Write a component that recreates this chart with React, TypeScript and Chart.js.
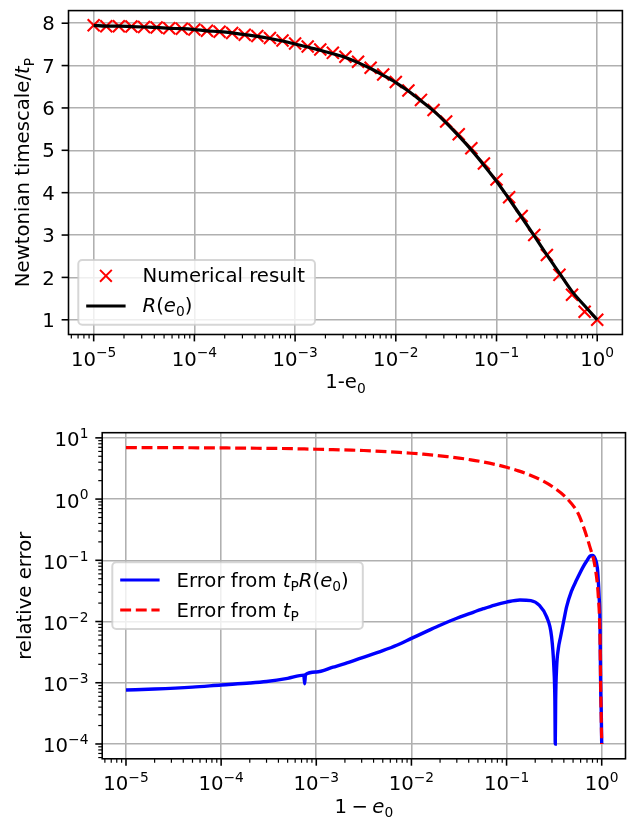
import React, { useEffect, useRef } from "react";
import { Chart, registerables } from "chart.js";

Chart.register(...registerables);

// ---------------- data ----------------
// 1 - e0 sample points of the numerical result (8 per decade)
const X_NUM = [
  1e-5, 1.334e-5, 1.778e-5, 2.371e-5, 3.162e-5, 4.217e-5, 5.623e-5, 7.499e-5,
  1e-4, 1.334e-4, 1.778e-4, 2.371e-4, 3.162e-4, 4.217e-4, 5.623e-4, 7.499e-4,
  1e-3, 1.334e-3, 1.778e-3, 2.371e-3, 3.162e-3, 4.217e-3, 5.623e-3, 7.499e-3,
  1e-2, 1.334e-2, 1.778e-2, 2.371e-2, 3.162e-2, 4.217e-2, 5.623e-2, 7.499e-2,
  0.1, 0.1334, 0.1778, 0.2371, 0.3162, 0.4217, 0.5623, 0.7499, 1,
];
const NUMERICAL = [
  7.95, 7.93, 7.93, 7.92, 7.91, 7.9, 7.88, 7.87,
  7.85, 7.82, 7.8, 7.77, 7.73, 7.7, 7.65, 7.59,
  7.52, 7.45, 7.38, 7.3, 7.21, 7.09, 6.95, 6.79,
  6.61, 6.41, 6.19, 5.95, 5.68, 5.38, 5.05, 4.69,
  4.31, 3.89, 3.45, 3.0, 2.53, 2.06, 1.59, 1.19, 1.0,
];
const R_THEORY = [
  7.95, 7.93, 7.93, 7.92, 7.91, 7.9, 7.88, 7.87,
  7.85, 7.82, 7.8, 7.77, 7.73, 7.69, 7.64, 7.58,
  7.51, 7.44, 7.36, 7.28, 7.19, 7.07, 6.93, 6.77,
  6.6, 6.4, 6.17, 5.93, 5.65, 5.34, 5.01, 4.65,
  4.27, 3.85, 3.42, 2.98, 2.53, 2.1, 1.67, 1.33, 1.0,
];

// relative error of t_P R(e0)
const ERR_R_X = [
  1e-5, 2e-5, 5e-5, 1e-4, 2e-4, 3e-4, 5e-4, 7.4e-4, 7.55e-4, 7.7e-4,
  1e-3, 1.5e-3, 2e-3, 3e-3, 5e-3, 7e-3, 1e-2, 1.5e-2, 2e-2, 3e-2,
  4e-2, 5.7e-2, 7.5e-2, 0.1, 0.138, 0.18, 0.22, 0.263, 0.297, 0.314,
  0.322, 0.325, 0.328, 0.336, 0.35, 0.37, 0.4, 0.428, 0.48, 0.545,
  0.64, 0.7, 0.753, 0.8, 0.85, 0.9, 0.92, 0.94, 0.959, 0.975, 0.99, 1,
];
const ERR_R_Y = [
  7.6e-4, 7.9e-4, 8.5e-4, 9.2e-4, 9.9e-4, 1.05e-3, 1.18e-3, 1.33e-3, 9.6e-4, 1.36e-3,
  1.5e-3, 1.8e-3, 2.05e-3, 2.55e-3, 3.35e-3, 4.1e-3, 5.3e-3, 7.1e-3, 8.7e-3, 1.13e-2,
  1.33e-2, 1.62e-2, 1.86e-2, 2.08e-2, 2.25e-2, 2.2e-2, 1.85e-2, 1.2e-2, 5.7e-3, 1.8e-3,
  5e-4, 1e-4, 5e-4, 1.8e-3, 3.6e-3, 5.7e-3, 1.05e-2, 1.75e-2, 3.1e-2, 4.8e-2,
  7.9e-2, 0.099, 0.117, 0.12, 0.108, 0.075, 0.048, 0.025, 0.0107, 8.7e-4, 3e-4, 1e-4,
];

// relative error of t_P
const ERR_P_X = [
  1e-5, 1.334e-5, 1.778e-5, 2.371e-5, 3.162e-5, 4.217e-5, 5.623e-5, 7.499e-5,
  1e-4, 1.334e-4, 1.778e-4, 2.371e-4, 3.162e-4, 4.217e-4, 5.623e-4, 7.499e-4,
  1e-3, 1.334e-3, 1.778e-3, 2.371e-3, 3.162e-3, 4.217e-3, 5.623e-3, 7.499e-3,
  1e-2, 1.334e-2, 1.778e-2, 2.371e-2, 3.162e-2, 4.217e-2, 5.623e-2, 7.499e-2,
  0.1, 0.1334, 0.1778, 0.2371, 0.3162, 0.4217, 0.5623,
  0.64, 0.7499, 0.85, 0.92, 0.959, 0.975, 1,
];
const ERR_P_Y = [
  6.95, 6.93, 6.93, 6.92, 6.91, 6.9, 6.88, 6.87,
  6.85, 6.82, 6.8, 6.77, 6.73, 6.7, 6.65, 6.59,
  6.52, 6.45, 6.38, 6.3, 6.21, 6.09, 5.95, 5.79,
  5.61, 5.41, 5.19, 4.95, 4.68, 4.38, 4.05, 3.69,
  3.31, 2.89, 2.45, 2.0, 1.53, 1.06, 0.59,
  0.36, 0.167, 0.079, 0.026, 0.0058, 0.00087, 0.0001,
];

const X_TICK_EXPONENTS = [-5, -4, -3, -2, -1, 0];
const TOP_Y_TICKS = [1, 2, 3, 4, 5, 6, 7, 8];
const BOT_Y_TICK_EXPONENTS = [-4, -3, -2, -1, 0, 1];

// ---------------- style ----------------
const PT = 1.97;
const FS = 19.7;
const GRID_W = 0.8 * PT;
const AX_W = 0.8 * PT;
const LINE_W = 3.2;
const MAJOR_LEN = 3.5 * PT;
const MINOR_LEN = 2 * PT;
const TICK_PAD = 3.5 * PT;
const FAMILY = '"DejaVu Sans"';

type Seg = { t?: string; it?: boolean; sub?: boolean; sup?: boolean; gap?: number };

function segFont(s: Seg) {
  const size = s.sub || s.sup ? FS * 0.7 : FS;
  return `${s.it ? "italic " : ""}${size}px ${FAMILY}`;
}
function richWidth(ctx: CanvasRenderingContext2D, segs: Seg[]) {
  let w = 0;
  for (const s of segs) {
    if (s.gap) { w += s.gap; continue; }
    ctx.font = segFont(s);
    w += ctx.measureText(s.t || "").width;
  }
  return w;
}
function drawRich(ctx: CanvasRenderingContext2D, segs: Seg[], x: number, y: number, align: string) {
  const w = richWidth(ctx, segs);
  let cx = align === "center" ? x - w / 2 : align === "right" ? x - w : x;
  ctx.textAlign = "left";
  ctx.textBaseline = "alphabetic";
  for (const s of segs) {
    if (s.gap) { cx += s.gap; continue; }
    ctx.font = segFont(s);
    const dy = s.sub ? FS * 0.22 : s.sup ? -FS * 0.42 : 0;
    ctx.fillText(s.t || "", cx, y + dy);
    cx += ctx.measureText(s.t || "").width;
  }
}
const pow10Label = (e: number): Seg[] => [{ t: "10" }, { t: String(e).replace("-", "\u2212"), sup: true }];

function minorValues(min: number, max: number) {
  const out: number[] = [];
  for (let e = Math.floor(Math.log10(min)); e <= Math.ceil(Math.log10(max)); e++) {
    for (let k = 2; k <= 9; k++) {
      const v = k * Math.pow(10, e);
      if (v >= min && v <= max) out.push(v);
    }
  }
  return out;
}

type LegendItem = { kind: string; color: string; cy: number; base: number; segs: Seg[] };
type MplCfg = {
  xLog: boolean;
  yLog: boolean;
  xMajor: { v: number; label: Seg[] }[];
  yMajor: { v: number; label: Seg[] }[];
  xLabel: Seg[];
  xLabelBase: number;
  yLabel: Seg[];
  yLabelBase: number;
  yTickBaseOff: number;
  legend: { x: number; y: number; w: number; h: number; hx0: number; hx1: number; tx: number; items: LegendItem[] };
};

function makeMplPlugin(cfg: MplCfg) {
  return {
    id: "mpl",
    afterDraw(chart: any) {
      const ctx: CanvasRenderingContext2D = chart.ctx;
      const a = chart.chartArea;
      const xs = chart.scales.x;
      const ys = chart.scales.y;
      ctx.save();
      ctx.fillStyle = "#000";
      ctx.strokeStyle = "#000";
      // spines
      ctx.lineWidth = AX_W;
      ctx.strokeRect(a.left, a.top, a.right - a.left, a.bottom - a.top);
      // x ticks
      ctx.lineWidth = AX_W;
      for (const m of cfg.xMajor) {
        const px = xs.getPixelForValue(m.v);
        ctx.beginPath();
        ctx.moveTo(px, a.bottom);
        ctx.lineTo(px, a.bottom + MAJOR_LEN);
        ctx.stroke();
        drawRich(ctx, m.label, px, a.bottom + 31, "center");
      }
      if (cfg.xLog) {
        ctx.lineWidth = 0.6 * PT;
        for (const v of minorValues(xs.min, xs.max)) {
          const px = xs.getPixelForValue(v);
          ctx.beginPath();
          ctx.moveTo(px, a.bottom);
          ctx.lineTo(px, a.bottom + MINOR_LEN);
          ctx.stroke();
        }
      }
      // y ticks
      ctx.lineWidth = AX_W;
      for (const m of cfg.yMajor) {
        const py = ys.getPixelForValue(m.v);
        ctx.beginPath();
        ctx.moveTo(a.left - MAJOR_LEN, py);
        ctx.lineTo(a.left, py);
        ctx.stroke();
        drawRich(ctx, m.label, a.left - MAJOR_LEN - TICK_PAD, py + cfg.yTickBaseOff, "right");
      }
      if (cfg.yLog) {
        ctx.lineWidth = 0.6 * PT;
        for (const v of minorValues(ys.min, ys.max)) {
          const py = ys.getPixelForValue(v);
          ctx.beginPath();
          ctx.moveTo(a.left - MINOR_LEN, py);
          ctx.lineTo(a.left, py);
          ctx.stroke();
        }
      }
      // axis labels
      drawRich(ctx, cfg.xLabel, (a.left + a.right) / 2, cfg.xLabelBase, "center");
      ctx.save();
      ctx.translate(cfg.yLabelBase, (a.top + a.bottom) / 2);
      ctx.rotate(-Math.PI / 2);
      drawRich(ctx, cfg.yLabel, 0, 0, "center");
      ctx.restore();
      // legend
      const L = cfg.legend;
      ctx.beginPath();
      (ctx as any).roundRect(L.x, L.y, L.w, L.h, 0.2 * FS);
      ctx.fillStyle = "rgba(255,255,255,0.8)";
      ctx.fill();
      ctx.lineWidth = PT;
      ctx.strokeStyle = "rgba(204,204,204,0.8)";
      ctx.stroke();
      for (const it of L.items) {
        ctx.strokeStyle = it.color;
        if (it.kind === "x") {
          const cx = (L.hx0 + L.hx1) / 2;
          const h = 3 * PT;
          ctx.lineWidth = PT;
          ctx.beginPath();
          ctx.moveTo(cx - h, it.cy - h);
          ctx.lineTo(cx + h, it.cy + h);
          ctx.moveTo(cx - h, it.cy + h);
          ctx.lineTo(cx + h, it.cy - h);
          ctx.stroke();
        } else {
          ctx.lineWidth = LINE_W;
          ctx.setLineDash(it.kind === "dash" ? [10.9, 4.7] : []);
          ctx.beginPath();
          ctx.moveTo(L.hx0, it.cy);
          ctx.lineTo(L.hx1, it.cy);
          ctx.stroke();
          ctx.setLineDash([]);
        }
        ctx.fillStyle = "#000";
        drawRich(ctx, it.segs, L.tx, it.base, "left");
      }
      ctx.restore();
    },
  };
}

const gridOpts = { color: "#b0b0b0", lineWidth: GRID_W, drawTicks: false };

function topConfig(): any {
  const plugin = makeMplPlugin({
    xLog: true,
    yLog: false,
    xMajor: X_TICK_EXPONENTS.map((e) => ({ v: Math.pow(10, e), label: pow10Label(e) })),
    yMajor: TOP_Y_TICKS.map((v) => ({ v, label: [{ t: String(v) }] })),
    xLabel: [{ t: "1-e" }, { t: "0", sub: true }],
    xLabelBase: 388.4,
    yLabel: [{ t: "Newtonian timescale/" }, { t: "t", it: true }, { t: "P", sub: true }],
    yLabelBase: 29.3,
    yTickBaseOff: 7.1,
    legend: {
      x: 78.3, y: 260, w: 236.7, h: 64.7, hx0: 86.2, hx1: 125.6, tx: 142.5,
      items: [
        { kind: "x", color: "#ff0000", cy: 275.8, base: 282.3, segs: [{ t: "Numerical result" }] },
        {
          kind: "line", color: "#000000", cy: 306, base: 311.7,
          segs: [{ t: "R", it: true }, { t: "(" }, { t: "e", it: true }, { t: "0", sub: true }, { t: ")" }],
        },
      ],
    },
  });
  return {
    type: "line",
    data: {
      datasets: [
        {
          label: "R(e0)",
          data: X_NUM.map((x, i) => ({ x, y: R_THEORY[i] })),
          borderColor: "#000000",
          borderWidth: LINE_W,
          pointRadius: 0,
          cubicInterpolationMode: "monotone",
          fill: false,
          order: 0,
        },
        {
          label: "Numerical result",
          data: X_NUM.map((x, i) => ({ x, y: NUMERICAL[i] })),
          showLine: false,
          pointStyle: "crossRot",
          pointRadius: 8.5,
          pointBorderWidth: 2.1,
          pointBorderColor: "#ff0000",
          pointBackgroundColor: "#ff0000",
          order: 1,
        },
      ],
    },
    options: {
      responsive: false,
      animation: false,
      events: [],
      layout: { padding: { top: 7.5, right: 6.3, left: 0, bottom: 0 } },
      plugins: { legend: { display: false }, tooltip: { enabled: false } },
      scales: {
        x: {
          type: "logarithmic",
          min: Math.pow(10, -5.25),
          max: Math.pow(10, 0.25),
          afterBuildTicks: (s: any) => { s.ticks = X_TICK_EXPONENTS.map((e) => ({ value: Math.pow(10, e) })); },
          afterFit: (s: any) => { s.height = 75.5; },
          ticks: { display: false },
          grid: gridOpts,
          border: { display: false },
        },
        y: {
          type: "linear",
          min: 0.6525,
          max: 8.2975,
          afterBuildTicks: (s: any) => { s.ticks = TOP_Y_TICKS.map((v) => ({ value: v })); },
          afterFit: (s: any) => { s.width = 68.5; },
          ticks: { display: false },
          grid: gridOpts,
          border: { display: false },
        },
      },
    },
    plugins: [plugin],
  };
}

function botConfig(): any {
  const plugin = makeMplPlugin({
    xLog: true,
    yLog: true,
    xMajor: X_TICK_EXPONENTS.map((e) => ({ v: Math.pow(10, e), label: pow10Label(e) })),
    yMajor: BOT_Y_TICK_EXPONENTS.map((e) => ({ v: Math.pow(10, e), label: pow10Label(e) })),
    xLabel: [{ t: "1" }, { gap: 4.4 }, { t: "\u2212" }, { gap: 4.4 }, { t: "e", it: true }, { t: "0", sub: true }],
    xLabelBase: 402.5,
    yLabel: [{ t: "relative error" }],
    yLabelBase: 31.3,
    yTickBaseOff: 8.5,
    legend: {
      x: 112.3, y: 152.3, w: 250.5, h: 66.7, hx0: 120.2, hx1: 159.6, tx: 176.5,
      items: [
        {
          kind: "line", color: "#0000ff", cy: 170, base: 176.7,
          segs: [
            { t: "Error from " }, { t: "t", it: true }, { t: "P", sub: true },
            { t: "R", it: true }, { t: "(" }, { t: "e", it: true }, { t: "0", sub: true }, { t: ")" },
          ],
        },
        {
          kind: "dash", color: "#ff0000", cy: 200, base: 206.7,
          segs: [{ t: "Error from " }, { t: "t", it: true }, { t: "P", sub: true }],
        },
      ],
    },
  });
  return {
    type: "line",
    data: {
      datasets: [
        {
          label: "Error from tP R(e0)",
          data: ERR_R_X.map((x, i) => ({ x, y: ERR_R_Y[i] })),
          borderColor: "#0000ff",
          borderWidth: 3.4,
          pointRadius: 0,
          cubicInterpolationMode: "monotone",
          fill: false,
          order: 1,
        },
        {
          label: "Error from tP",
          data: ERR_P_X.map((x, i) => ({ x, y: ERR_P_Y[i] })),
          borderColor: "#ff0000",
          borderWidth: LINE_W,
          borderDash: [10.9, 4.7],
          pointRadius: 0,
          cubicInterpolationMode: "monotone",
          fill: false,
          order: 0,
        },
      ],
    },
    options: {
      responsive: false,
      animation: false,
      events: [],
      layout: { padding: { top: 22.7, right: 7.5, left: 0, bottom: 0 } },
      plugins: { legend: { display: false }, tooltip: { enabled: false } },
      scales: {
        x: {
          type: "logarithmic",
          min: Math.pow(10, -5.25),
          max: Math.pow(10, 0.25),
          afterBuildTicks: (s: any) => { s.ticks = X_TICK_EXPONENTS.map((e) => ({ value: Math.pow(10, e) })); },
          afterFit: (s: any) => { s.height = 62.2; },
          ticks: { display: false },
          grid: gridOpts,
          border: { display: false },
        },
        y: {
          type: "logarithmic",
          min: Math.pow(10, -4.2421),
          max: Math.pow(10, 1.0842),
          afterBuildTicks: (s: any) => { s.ticks = BOT_Y_TICK_EXPONENTS.map((e) => ({ value: Math.pow(10, e) })); },
          afterFit: (s: any) => { s.width = 102.2; },
          ticks: { display: false },
          grid: gridOpts,
          border: { display: false },
        },
      },
    },
    plugins: [plugin],
  };
}

export default function App() {
  const topRef = useRef<HTMLCanvasElement>(null);
  const botRef = useRef<HTMLCanvasElement>(null);
  useEffect(() => {
    const c1 = new Chart(topRef.current as HTMLCanvasElement, topConfig());
    const c2 = new Chart(botRef.current as HTMLCanvasElement, botConfig());
    return () => {
      c1.destroy();
      c2.destroy();
    };
  }, []);
  return (
    <div style={{ position: "fixed", left: 0, top: 0, width: 633, height: 821, background: "#ffffff" }}>
      <canvas ref={topRef} width={633} height={410} style={{ position: "absolute", left: 0, top: 0, display: "block" }} />
      <canvas ref={botRef} width={633} height={411} style={{ position: "absolute", left: 0, top: 410, display: "block" }} />
    </div>
  );
}
